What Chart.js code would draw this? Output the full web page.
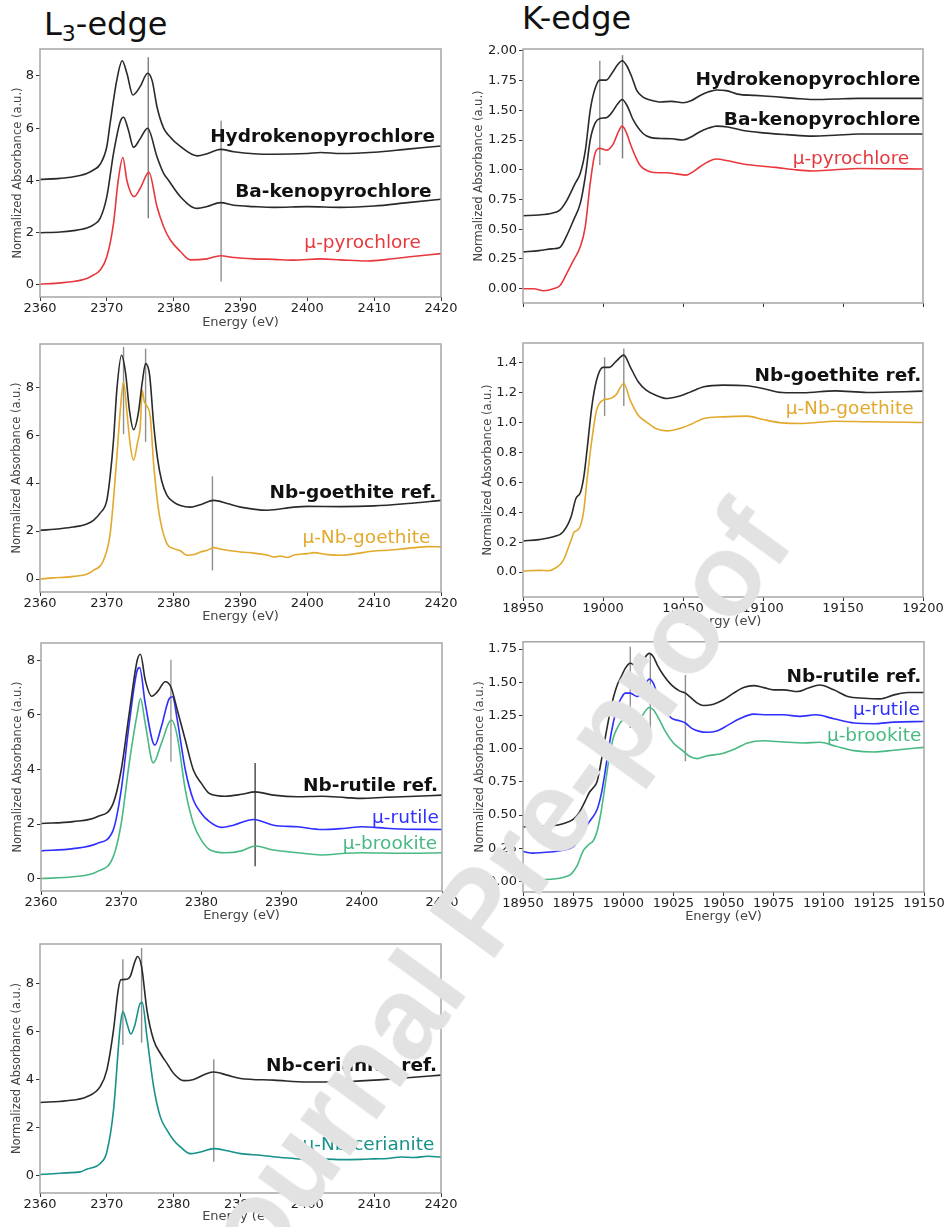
<!DOCTYPE html>
<html>
<head>
<meta charset="utf-8">
<script src="https://cdn.jsdelivr.net/npm/chart.js@4.4.0/dist/chart.umd.min.js"></script>
<style>
  body { margin: 0; background: #fff; width: 946px; height: 1227px; position: relative; overflow: hidden; font-family: 'DejaVu Sans', sans-serif; }
  canvas { position: absolute; }
  .title { position: absolute; font-size: 32px; color: #111; line-height: 1; white-space: nowrap; }
  .title sub { font-size: 22px; vertical-align: -0.25em; line-height: 0; }
  #wm { position: absolute; left: 478px; top: 912px; transform: translate(-50%, -50%) rotate(-54deg);
        font-family: 'Liberation Sans', sans-serif; font-weight: bold; font-size: 116px; color: #e2e2e2; white-space: nowrap;
        line-height: 1; pointer-events: none; z-index: 5; }
</style>
</head>
<body>
<div class="title" style="left:44px;top:8px">L<sub>3</sub>-edge</div>
<div class="title" style="left:522px;top:2px">K-edge</div>
<div id="wm">Journal Pre-proof</div>

<script>
// ---- L3-edge, pyrochlores ----
const pyL_hydroE = [2360, 2363, 2365, 2367, 2368, 2369, 2370, 2370.5, 2371.5, 2372.3, 2373, 2373.9, 2375, 2376.1, 2376.8, 2377.5, 2378.5, 2379.2, 2381, 2383.5, 2385, 2387, 2389, 2392, 2395, 2400, 2402, 2405, 2410, 2415, 2420];
const pyL_hydro  = [4.04, 4.08, 4.14, 4.27, 4.4, 4.62, 5.3, 6.2, 7.85, 8.58, 8.1, 7.27, 7.6, 8.1, 7.8, 6.82, 6.0, 5.74, 5.3, 4.94, 5.02, 5.19, 5.1, 5.02, 5.0, 5.03, 5.07, 5.03, 5.08, 5.2, 5.32];
const pyL_baE = [2360, 2363, 2365, 2367, 2368, 2369, 2370, 2371, 2372, 2372.5, 2373.2, 2374, 2375, 2376.1, 2377.5, 2378.5, 2379.2, 2381, 2383.5, 2385, 2387, 2389, 2392, 2395, 2400, 2405, 2410, 2415, 2420];
const pyL_ba  = [2.0, 2.03, 2.08, 2.18, 2.3, 2.55, 3.38, 5.04, 6.25, 6.42, 5.95, 5.27, 5.6, 6.0, 4.91, 4.27, 4.02, 3.38, 2.93, 3.0, 3.15, 3.05, 3.0, 2.97, 3.0, 2.97, 3.02, 3.15, 3.28];
const pyL_muE = [2360, 2363, 2365, 2367, 2368, 2369, 2370, 2371, 2371.7, 2372.4, 2373, 2374.1, 2375, 2376.3, 2377.5, 2378.5, 2379.5, 2381, 2382.5, 2385, 2387, 2389, 2392, 2395, 2398, 2402, 2405, 2409, 2412, 2415, 2420];
const pyL_mu  = [0.03, 0.08, 0.13, 0.25, 0.38, 0.57, 1.08, 2.36, 4.0, 4.88, 4.0, 3.38, 3.7, 4.31, 3.0, 2.23, 1.72, 1.28, 0.96, 1.0, 1.12, 1.05, 1.0, 0.98, 0.95, 1.0, 0.96, 0.92, 0.98, 1.07, 1.2];

// ---- K-edge, pyrochlores ----
const pyK_hydroE = [18950, 18960, 18968, 18973, 18977.5, 18982.6, 18985.8, 18989, 18992, 18995, 18998, 19002, 19006, 19009, 19012, 19015, 19018, 19021, 19025, 19030, 19036, 19043, 19050, 19055, 19061, 19066, 19071, 19077, 19084, 19095, 19108, 19120, 19131, 19145, 19160, 19180, 19200];
const pyK_hydro  = [0.613, 0.62, 0.635, 0.66, 0.745, 0.885, 0.97, 1.165, 1.5, 1.68, 1.753, 1.753, 1.82, 1.88, 1.916, 1.87, 1.78, 1.67, 1.61, 1.585, 1.57, 1.575, 1.563, 1.58, 1.627, 1.655, 1.67, 1.665, 1.636, 1.625, 1.613, 1.6, 1.59, 1.595, 1.6, 1.6, 1.6];
const pyK_baE = [18950, 18960, 18968, 18973, 18977, 18981.6, 18985.8, 18988.9, 18992, 18995, 18998, 19002.4, 19006, 19009, 19012, 19015, 19019, 19025, 19030, 19036, 19043, 19050, 19055, 19060.6, 19066, 19071, 19078, 19087.6, 19100, 19115, 19131, 19145, 19160, 19180, 19200];
const pyK_ba  = [0.31, 0.32, 0.335, 0.347, 0.437, 0.577, 0.717, 0.94, 1.25, 1.39, 1.43, 1.44, 1.49, 1.55, 1.59, 1.54, 1.417, 1.305, 1.27, 1.263, 1.26, 1.25, 1.275, 1.32, 1.35, 1.367, 1.36, 1.33, 1.31, 1.295, 1.283, 1.29, 1.3, 1.3, 1.3];
const pyK_muE = [18950, 18956.6, 18963, 18969, 18973.3, 18977.4, 18981.6, 18985.8, 18988.9, 18992, 18995, 18998, 19002.4, 19006.5, 19009, 19012, 19015, 19017, 19020, 19023, 19029.4, 19035, 19040, 19046, 19052, 19056, 19060.6, 19066, 19071, 19078, 19087.6, 19100, 19108, 19120, 19131, 19145, 19160, 19180, 19200];
const pyK_mu  = [0, 0, -0.017, 0, 0.03, 0.13, 0.24, 0.353, 0.52, 0.885, 1.137, 1.18, 1.165, 1.22, 1.3, 1.367, 1.3, 1.22, 1.12, 1.04, 0.983, 0.975, 0.975, 0.965, 0.955, 0.98, 1.025, 1.07, 1.09, 1.075, 1.048, 1.03, 1.02, 1.0, 0.99, 1.0, 1.01, 1.008, 1.006];

// ---- L3-edge, goethite ----
const gL_refE = [2360, 2363, 2365, 2367, 2368, 2369, 2370, 2370.5, 2371, 2371.5, 2372.2, 2372.8, 2373.4, 2374, 2374.7, 2375.3, 2375.8, 2376.4, 2377, 2377.6, 2378.2, 2379, 2380, 2381, 2382.5, 2384, 2386, 2388, 2390, 2394, 2398, 2400, 2405, 2410, 2415, 2420];
const gL_ref  = [2.03, 2.1, 2.17, 2.3, 2.45, 2.75, 3.28, 4.3, 5.79, 7.9, 9.33, 8.6, 7.0, 6.23, 6.9, 8.2, 8.98, 8.5, 6.48, 5.0, 4.1, 3.49, 3.21, 3.07, 3.0, 3.1, 3.28, 3.15, 3.0, 2.87, 3.0, 3.03, 3.02, 3.05, 3.15, 3.28];
const gL_muE = [2360, 2362, 2364, 2365, 2367, 2368, 2369, 2369.5, 2370.5, 2371.5, 2372, 2372.5, 2373, 2373.5, 2374, 2374.6, 2375, 2375.3, 2375.6, 2375.9, 2376.5, 2377, 2377.5, 2378, 2379, 2380, 2381, 2382, 2383, 2384, 2385, 2386, 2387, 2388, 2389, 2390, 2392, 2394, 2395, 2396, 2397, 2398, 2400, 2401, 2403, 2405, 2407, 2410, 2412, 2414, 2416, 2418, 2420];
const gL_mu  = [0.0, 0.05, 0.08, 0.11, 0.2, 0.36, 0.55, 0.78, 1.89, 5.09, 7.0, 8.22, 6.97, 5.6, 4.95, 5.7, 6.34, 7.87, 7.4, 7.25, 6.76, 4.81, 3.4, 2.45, 1.47, 1.27, 1.18, 0.99, 1.02, 1.13, 1.2, 1.31, 1.25, 1.2, 1.17, 1.13, 1.08, 1.0, 0.92, 0.96, 0.9, 1.0, 1.06, 1.1, 1.02, 0.99, 1.05, 1.17, 1.2, 1.25, 1.31, 1.35, 1.34];

// ---- K-edge, goethite ----
const gK_refE = [18950, 18960, 18970, 18975, 18980, 18983, 18986, 18988, 18990, 18993, 18996, 19000, 19004, 19008, 19013, 19017, 19022, 19027, 19033, 19040, 19048, 19055, 19063, 19075, 19090, 19100, 19112, 19125, 19145, 19165, 19200];
const gK_ref  = [0.208, 0.217, 0.239, 0.268, 0.368, 0.49, 0.536, 0.636, 0.815, 1.105, 1.284, 1.369, 1.369, 1.407, 1.451, 1.373, 1.273, 1.217, 1.183, 1.161, 1.177, 1.206, 1.239, 1.25, 1.246, 1.228, 1.201, 1.199, 1.212, 1.201, 1.21];
const gK_muE = [18950, 18960, 18966, 18970, 18975, 18980, 18982, 18985, 18988, 18990, 18993, 18996, 19000, 19004, 19008, 19013, 19017, 19022, 19027, 19033, 19040, 19048, 19055, 19063, 19075, 19090, 19100, 19112, 19125, 19145, 19165, 19200];
const gK_mu  = [0.007, 0.011, 0.009, 0.025, 0.074, 0.212, 0.268, 0.29, 0.413, 0.614, 0.882, 1.083, 1.15, 1.159, 1.183, 1.261, 1.15, 1.049, 1.005, 0.96, 0.944, 0.96, 0.989, 1.027, 1.038, 1.043, 1.02, 0.998, 0.994, 1.009, 1.005, 1.0];

// ---- L3-edge, rutile / brookite ----
const rL_refE = [2360, 2364, 2367, 2369, 2370, 2371, 2372, 2372.4, 2373, 2373.8, 2374.5, 2375.5, 2376.2, 2377, 2378, 2379, 2380, 2381, 2383, 2385, 2386.7, 2389, 2392, 2395, 2398, 2400, 2403, 2405, 2410];
const rL_ref  = [2.02, 2.09, 2.27, 2.76, 3.98, 6.05, 8.0, 8.22, 7.27, 6.68, 6.84, 7.21, 7.02, 6.17, 5.07, 3.98, 3.49, 3.12, 3.02, 3.09, 3.18, 3.06, 3.0, 3.02, 2.97, 2.94, 2.98, 3.0, 3.06];
const rL_rutE = [2360, 2364, 2367, 2369, 2370, 2371, 2372, 2372.3, 2373, 2374.2, 2375, 2376, 2376.4, 2377, 2378, 2379, 2380, 2381, 2382.5, 2384, 2386.5, 2389, 2392, 2395, 2398, 2400, 2403, 2405, 2410];
const rL_rut  = [1.02, 1.1, 1.29, 1.78, 3.24, 5.68, 7.63, 7.73, 6.41, 4.89, 5.56, 6.6, 6.66, 5.8, 3.98, 2.88, 2.39, 2.09, 1.88, 1.96, 2.17, 1.96, 1.9, 1.8, 1.85, 1.9, 1.85, 1.82, 1.8];
const rL_brkE = [2360, 2364, 2367, 2369, 2370, 2371, 2372, 2372.4, 2373, 2374, 2375, 2376, 2376.3, 2377, 2378, 2379, 2380, 2381, 2383, 2385, 2386.7, 2389, 2392, 2395, 2398, 2400, 2405, 2410];
const rL_brk  = [0.01, 0.07, 0.26, 0.8, 2.02, 4.22, 6.05, 6.6, 5.68, 4.24, 4.95, 5.74, 5.8, 5.2, 3.24, 2.02, 1.41, 1.07, 0.95, 1.02, 1.2, 1.05, 0.95, 0.87, 0.93, 0.95, 0.93, 0.95];

// ---- K-edge, rutile / brookite ----
const rK_refE = [18950, 18960, 18965, 18970, 18975, 18978, 18981, 18983, 18985, 18987, 18989, 18991, 18993, 18995, 18997, 18999, 19001, 19003.5, 19006, 19008, 19010, 19013, 19015, 19017, 19020, 19024, 19028, 19031, 19034, 19037, 19040, 19045, 19050, 19055, 19060, 19065, 19070, 19075, 19080, 19087, 19092, 19098, 19105, 19112, 19120, 19128, 19135, 19142, 19150];
const rK_ref  = [0.41, 0.418, 0.42, 0.435, 0.468, 0.518, 0.605, 0.668, 0.705, 0.755, 0.905, 1.08, 1.243, 1.38, 1.48, 1.543, 1.605, 1.643, 1.625, 1.618, 1.668, 1.718, 1.693, 1.63, 1.555, 1.48, 1.435, 1.418, 1.38, 1.343, 1.325, 1.335, 1.368, 1.418, 1.46, 1.475, 1.46, 1.443, 1.443, 1.43, 1.455, 1.48, 1.443, 1.393, 1.38, 1.375, 1.405, 1.423, 1.423];
const rK_rutE = [18950, 18955, 18960, 18965, 18970, 18975, 18978, 18981, 18984, 18987, 18989, 18991, 18993, 18995, 18997, 18999, 19001, 19003.5, 19007, 19009, 19011, 19013, 19015, 19017, 19020, 19024, 19028, 19031, 19034, 19038, 19042, 19047, 19052, 19058, 19065, 19072, 19080, 19088, 19096, 19105, 19115, 19125, 19135, 19150];
const rK_rut  = [0.225, 0.213, 0.218, 0.223, 0.235, 0.26, 0.318, 0.405, 0.468, 0.543, 0.655, 0.83, 1.03, 1.193, 1.318, 1.38, 1.418, 1.418, 1.393, 1.418, 1.48, 1.525, 1.493, 1.405, 1.305, 1.23, 1.21, 1.193, 1.155, 1.13, 1.123, 1.135, 1.175, 1.225, 1.26, 1.255, 1.255, 1.243, 1.255, 1.225, 1.193, 1.188, 1.2, 1.205];
const rK_brkE = [18950, 18960, 18970, 18974, 18977, 18980, 18983, 18985, 18987, 18989, 18991, 18993, 18995, 18997, 18999, 19001, 19003, 19005, 19007, 19010, 19013, 19015, 19018, 19021, 19025, 19029, 19033, 19037, 19041, 19046, 19050, 19055, 19062, 19070, 19080, 19090, 19098, 19106, 19115, 19125, 19135, 19150];
const rK_brk  = [0.01, 0.013, 0.03, 0.055, 0.118, 0.23, 0.28, 0.305, 0.38, 0.53, 0.73, 0.93, 1.08, 1.155, 1.205, 1.225, 1.21, 1.175, 1.18, 1.26, 1.31, 1.293, 1.218, 1.13, 1.043, 0.993, 0.943, 0.925, 0.943, 0.955, 0.965, 0.993, 1.043, 1.06, 1.05, 1.043, 1.048, 1.018, 0.985, 0.975, 0.988, 1.01];

// ---- L3-edge, cerianite ----
const cL_refE = [2360, 2364, 2367, 2369, 2370, 2371, 2371.7, 2372.1, 2373, 2373.5, 2374.2, 2374.6, 2375.2, 2376, 2377, 2378, 2379, 2380, 2381.5, 2383, 2385, 2386, 2388, 2390, 2395, 2400, 2405, 2410, 2415, 2420];
const cL_ref  = [3.03, 3.1, 3.27, 3.69, 4.38, 6.05, 7.72, 8.14, 8.16, 8.28, 8.9, 9.11, 8.69, 6.88, 5.63, 5.08, 4.66, 4.24, 3.94, 3.99, 4.24, 4.3, 4.17, 4.03, 3.96, 3.88, 3.89, 3.96, 4.06, 4.17];
const cL_muE = [2360, 2362, 2364, 2366, 2367, 2369, 2370, 2371, 2372, 2372.4, 2373, 2373.6, 2374.2, 2375, 2375.3, 2376, 2377, 2378, 2379, 2380, 2381, 2382.5, 2384, 2386, 2388, 2390, 2393, 2396, 2398, 2400, 2403, 2405, 2408, 2410, 2412, 2414, 2416, 2418, 2420];
const cL_mu  = [0.03, 0.06, 0.1, 0.14, 0.25, 0.49, 0.97, 2.71, 6.19, 6.82, 6.33, 5.88, 6.26, 7.16, 7.19, 5.77, 3.69, 2.43, 1.88, 1.46, 1.18, 0.9, 0.97, 1.11, 1.02, 0.9, 0.83, 0.74, 0.7, 0.65, 0.67, 0.65, 0.66, 0.68, 0.7, 0.76, 0.74, 0.79, 0.76];

const BLACK = '#2a2a2a', RED = '#e8383d', GOLD = '#e2a92c', BLUE = '#2f2fff', GREEN = '#48b982', TEAL = '#17918a', VGRAY = '#8e8e8e';
const FONT = 'DejaVu Sans';

const framePlugin = {
  id: 'frame',
  afterDatasetsDraw(chart, args, opts) {
    const ctx = chart.ctx, a = chart.chartArea;
    (opts.labels || []).forEach(l => {
      ctx.save();
      ctx.font = (l.bold ? 'bold ' : '') + '18.5px "' + FONT + '"';
      ctx.fillStyle = l.color;
      ctx.textAlign = 'right';
      ctx.textBaseline = 'alphabetic';
      ctx.fillText(l.text, chart.scales.x.getPixelForValue(l.e), chart.scales.y.getPixelForValue(l.a));
      ctx.restore();
    });
    ctx.save();
    ctx.strokeStyle = '#a6a6a6';
    ctx.lineWidth = 1.5;
    ctx.strokeRect(a.left, a.top, a.right - a.left, a.bottom - a.top);
    ctx.restore();
  }
};

function panel(p) {
  const cv = document.createElement('canvas');
  const cw = p.canvas[2], ch = p.canvas[3];
  cv.width = cw; cv.height = ch;
  cv.style.left = p.canvas[0] + 'px'; cv.style.top = p.canvas[1] + 'px';
  cv.style.width = cw + 'px'; cv.style.height = ch + 'px';
  document.body.appendChild(cv);
  const [cx, cy] = p.canvas;
  const [l, t, r, b] = p.box;

  const datasets = p.series.map(s => ({
    data: s.e.map((e, i) => ({ x: e, y: s.a[i] })),
    borderColor: s.color, borderWidth: 1.6, pointRadius: 0, fill: false,
    cubicInterpolationMode: 'monotone'
  }));
  p.vlines.forEach(v => datasets.push({
    data: [{ x: v[0], y: v[1] }, { x: v[0], y: v[2] }],
    borderColor: v[3] || VGRAY, borderWidth: 1.4, pointRadius: 0, fill: false
  }));

  const tickFont = { family: FONT, size: 13 };
  new Chart(cv, {
    type: 'line',
    data: { datasets },
    options: {
      responsive: false, animation: false, devicePixelRatio: 1,
      layout: { padding: { top: t - cy, right: cx + cw - r, left: 0, bottom: 0 } },
      plugins: { legend: { display: false }, tooltip: { enabled: false }, frame: { labels: p.labels } },
      scales: {
        x: {
          type: 'linear', min: p.x[0], max: p.x[1],
          ticks: { stepSize: p.x[2], includeBounds: false, autoSkip: false, maxRotation: 0, padding: 0,
                   display: p.xLabels !== false, color: '#222', font: tickFont, callback: v => String(v) },
          grid: { drawOnChartArea: false, drawTicks: true, tickLength: 4, tickColor: '#333', tickWidth: 1 },
          border: { display: false },
          title: { display: !!p.xTitle, text: 'Energy (eV)', color: '#444', font: { family: FONT, size: 13 },
                   padding: { top: 0, bottom: p.xTitle ? (cy + ch - 7.8 - p.xTitle) : 0 } },
          afterFit: s => { s.height = cy + ch - b; }
        },
        y: {
          min: p.y[0], max: p.y[1],
          ticks: { stepSize: p.y[2], includeBounds: false, padding: 2, color: '#222', font: tickFont,
                   callback: v => v.toFixed(p.y[3]) },
          grid: { drawOnChartArea: false, drawTicks: true, tickLength: 4, tickColor: '#333', tickWidth: 1 },
          border: { display: false },
          title: { display: true, text: 'Normalized Absorbance (a.u.)', color: '#444',
                   font: { family: FONT, size: 11.5 }, padding: { top: p.yTitle - cx - 6.9, bottom: 0 } },
          afterFit: s => { s.width = l - cx; }
        }
      }
    },
    plugins: [framePlugin]
  });
}

// L3 pyrochlores
panel({
  canvas: [0, 0, 460, 333], box: [40, 49, 441, 297], x: [2360, 2420, 10], y: [-0.46, 9.03, 2, 0],
  xTitle: 322.7, yTitle: 18.3,
  series: [{ e: pyL_hydroE, a: pyL_hydro, color: BLACK }, { e: pyL_baE, a: pyL_ba, color: BLACK }, { e: pyL_muE, a: pyL_mu, color: RED }],
  vlines: [[2376.2, 2.55, 8.71, '#7a7a7a'], [2387.1, 0.13, 6.28]],
  labels: [
    { text: 'Hydrokenopyrochlore', e: 2419.1, a: 5.49, color: '#111', bold: true },
    { text: 'Ba-kenopyrochlore', e: 2418.6, a: 3.36, color: '#111', bold: true },
    { text: 'μ-pyrochlore', e: 2417.0, a: 1.41, color: RED }
  ]
});

// K pyrochlores
panel({
  canvas: [466, 0, 480, 330], box: [523, 49, 923, 303], x: [18950, 19200, 50], y: [-0.12, 2.015, 0.25, 2],
  xLabels: false, yTitle: 479,
  series: [{ e: pyK_hydroE, a: pyK_hydro, color: BLACK }, { e: pyK_baE, a: pyK_ba, color: BLACK }, { e: pyK_muE, a: pyK_mu, color: RED }],
  vlines: [[18998, 1.04, 1.916], [19012.2, 1.095, 1.963, '#7a7a7a']],
  labels: [
    { text: 'Hydrokenopyrochlore', e: 19198.3, a: 1.712, color: '#111', bold: true },
    { text: 'Ba-kenopyrochlore', e: 19198.3, a: 1.376, color: '#111', bold: true },
    { text: 'μ-pyrochlore', e: 19191.4, a: 1.048, color: RED }
  ]
});

// L3 goethite
panel({
  canvas: [0, 333, 460, 293], box: [40, 344, 441, 592], x: [2360, 2420, 10], y: [-0.54, 9.8, 2, 0],
  xTitle: 617, yTitle: 17.3,
  series: [{ e: gL_refE, a: gL_ref, color: BLACK }, { e: gL_muE, a: gL_mu, color: GOLD }],
  vlines: [[2372.5, 6.04, 9.68], [2375.8, 5.72, 9.61], [2385.8, 0.36, 4.28]],
  labels: [
    { text: 'Nb-goethite ref.', e: 2419.3, a: 3.40, color: '#111', bold: true },
    { text: 'μ-Nb-goethite', e: 2418.4, a: 1.50, color: GOLD }
  ]
});

// K goethite
panel({
  canvas: [466, 330, 480, 302], box: [523, 343, 923, 597], x: [18950, 19200, 50], y: [-0.167, 1.532, 0.2, 1],
  xTitle: 621.7, yTitle: 488,
  series: [{ e: gK_refE, a: gK_ref, color: BLACK }, { e: gK_muE, a: gK_mu, color: GOLD }],
  vlines: [[19001, 1.043, 1.436], [19013, 1.11, 1.496]],
  labels: [
    { text: 'Nb-goethite ref.', e: 19198.9, a: 1.277, color: '#111', bold: true },
    { text: 'μ-Nb-goethite', e: 19194.1, a: 1.056, color: GOLD }
  ]
});

// L3 rutile / brookite
panel({
  canvas: [0, 626, 460, 300], box: [41, 643, 442, 891], x: [2360, 2410, 10], y: [-0.45, 8.63, 2, 0],
  xTitle: 916, yTitle: 18.3,
  series: [{ e: rL_refE, a: rL_ref, color: BLACK }, { e: rL_rutE, a: rL_rut, color: BLUE }, { e: rL_brkE, a: rL_brk, color: GREEN }],
  vlines: [[2376.2, 4.28, 8.02, '#9a9a9a'], [2386.7, 0.46, 4.24, '#444']],
  labels: [
    { text: 'Nb-rutile ref.', e: 2409.5, a: 3.22, color: '#111', bold: true },
    { text: 'μ-rutile', e: 2409.6, a: 2.05, color: BLUE },
    { text: 'μ-brookite', e: 2409.4, a: 1.09, color: GREEN }
  ]
});

// K rutile / brookite
panel({
  canvas: [466, 632, 480, 295], box: [523, 640, 924, 892], x: [18950, 19150, 25], y: [-0.08, 1.805, 0.25, 2],
  xTitle: 917, yTitle: 480,
  series: [{ e: rK_refE, a: rK_ref, color: BLACK }, { e: rK_rutE, a: rK_rut, color: BLUE }, { e: rK_brkE, a: rK_brk, color: GREEN }],
  vlines: [[19003.5, 1.155, 1.768], [19013.5, 1.125, 1.718], [19031, 0.905, 1.555]],
  labels: [
    { text: 'Nb-rutile ref.', e: 19148.7, a: 1.50, color: '#111', bold: true },
    { text: 'μ-rutile', e: 19147.9, a: 1.25, color: BLUE },
    { text: 'μ-brookite', e: 19148.7, a: 1.055, color: GREEN }
  ]
});

// L3 cerianite
panel({
  canvas: [0, 926, 460, 301], box: [40, 944, 441, 1193], x: [2360, 2420, 10], y: [-0.74, 9.63, 2, 0],
  xTitle: 1217, yTitle: 17.3,
  series: [{ e: cL_refE, a: cL_ref, color: BLACK }, { e: cL_muE, a: cL_mu, color: TEAL }],
  vlines: [[2372.4, 5.42, 9.0], [2375.2, 5.52, 9.46], [2386, 0.56, 4.83]],
  labels: [
    { text: 'Nb-cerianite ref.', e: 2419.4, a: 4.35, color: '#111', bold: true },
    { text: 'μ-Nb-cerianite', e: 2419.0, a: 1.04, color: TEAL }
  ]
});
</script>
</body>
</html>
